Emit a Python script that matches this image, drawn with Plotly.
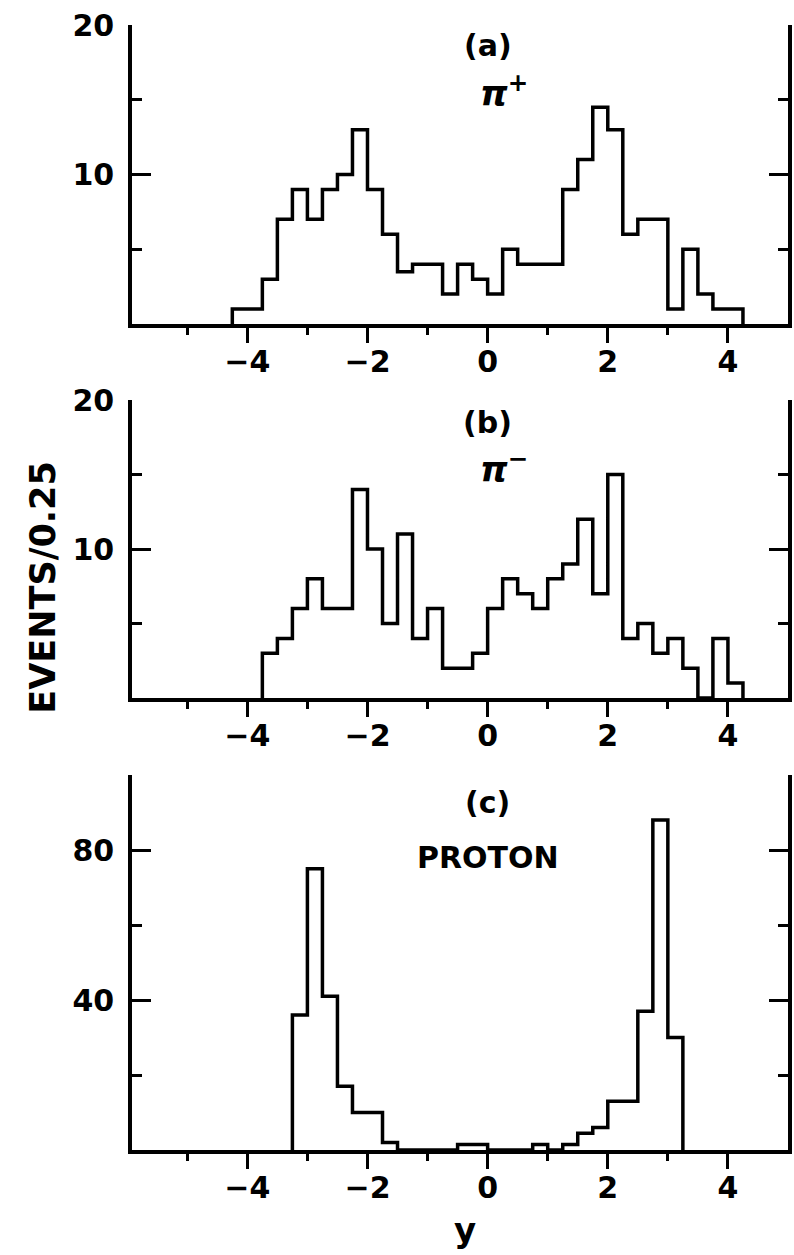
import plotly.graph_objects as go

# ---------------- data ----------------
BIN = 0.25
# panel (a) pi+
a_start = -4.25
a_counts = [1, 1, 3, 7, 9, 7, 9, 10, 13, 9, 6, 3.5, 4, 4, 2, 4, 3, 2, 5, 4, 4, 4,
            9, 11, 14.5, 13, 6, 7, 7, 1, 5, 2, 1, 1]
# panel (b) pi-
b_start = -3.75
b_counts = [3, 4, 6, 8, 6, 6, 14, 10, 5, 11, 4, 6, 2, 2, 3, 6, 8, 7, 6, 8, 9, 12,
            7, 15, 4, 5, 3, 4, 2, 0, 4, 1]
# panel (c) proton
c_start = -3.25
c_counts = [36, 75, 41, 17, 10, 10, 2, 0, 0, 0, 0, 1.5, 1.5, 0, 0, 0, 1.5, 0, 1.5,
            4.5, 6, 13, 13, 37, 88, 30]

x_tickvals = [-4, -2, 0, 2, 4]
x_ticktext = ["\u22124", "\u22122", "0", "2", "4"]
x_minor = [-5, -3, -1, 1, 3]
ab_major = [10, 20]
ab_minor = [5, 15]
c_major = [40, 80]
c_minor = [20, 60, 100]

panel_labels = ["(a)", "(b)", "(c)"]
species = ["<i>\u03c0</i><sup>+</sup>", "<i>\u03c0</i><sup>\u2212</sup>", "PROTON"]
y_title = "EVENTS/0.25"
x_title = "y"


def step_xy(start, counts):
    xs = [start, start]
    ys = [0, counts[0]]
    for i in range(1, len(counts)):
        xs.append(start + i * BIN)
        ys.append(counts[i])
    xs.append(start + len(counts) * BIN)
    ys.append(0)
    return xs, ys


FONT = "DejaVu Sans"
LW = 3.5

fig = go.Figure()
for i, (st, cn) in enumerate([(a_start, a_counts), (b_start, b_counts), (c_start, c_counts)]):
    xs, ys = step_xy(st, cn)
    fig.add_trace(go.Scatter(x=xs, y=ys, mode="lines", line=dict(color="black", width=LW, shape="hv"),
                             xaxis="x" if i == 0 else f"x{i+1}", yaxis="y" if i == 0 else f"y{i+1}",
                             showlegend=False, hoverinfo="skip"))

# domains
H_PLOT = 1125.0
def dom(top_px, bot_px):
    return [(1150 - bot_px) / H_PLOT, (1150 - top_px) / H_PLOT]

doms = [dom(25, 324), dom(400, 698), dom(775, 1150)]
xr = [-5.92, 5.0]

tickfont = dict(family=FONT, size=30, color="black", weight="bold")

for i in range(3):
    xk = "xaxis" if i == 0 else f"xaxis{i+1}"
    yk = "yaxis" if i == 0 else f"yaxis{i+1}"
    anchor_y = "y" if i == 0 else f"y{i+1}"
    anchor_x = "x" if i == 0 else f"x{i+1}"
    fig.layout[xk] = dict(domain=[0, 1], anchor=anchor_y, range=xr, showgrid=False, zeroline=False,
                          showline=True, linecolor="black", linewidth=LW, mirror=False,
                          ticks="outside", ticklen=15, tickwidth=3, tickcolor="black",
                          tickvals=x_tickvals, ticktext=x_ticktext, tickfont=tickfont,
                          ticklabelstandoff=-7, automargin=False,
                          minor=dict(tickvals=x_minor, ticks="outside", ticklen=7, tickwidth=3,
                                     tickcolor="black"))
    if i < 2:
        yr = [0, 20]; maj = ab_major; mnr = ab_minor
    else:
        yr = [0, 100]; maj = c_major; mnr = c_minor
    fig.layout[yk] = dict(domain=doms[i], anchor=anchor_x, range=yr, showgrid=False, zeroline=False,
                          showline=True, linecolor="black", linewidth=LW, mirror="ticks",
                          ticks="inside", ticklen=19, tickwidth=3, tickcolor="black",
                          tickvals=maj, ticktext=[str(v) for v in maj], tickfont=tickfont,
                          ticklabelstandoff=8, automargin=False,
                          minor=dict(tickvals=mnr, ticks="inside", ticklen=10, tickwidth=3,
                                     tickcolor="black"))

annfont = dict(family=FONT, size=30, color="black", weight="bold")
spfont = dict(family=FONT, size=35, color="black", weight="bold")
# panel labels
lab_pos = [(0.0, 18.6, "x", "y"), (0.0, 18.5, "x2", "y2"), (0.0, 92.8, "x3", "y3")]
sp_pos = [(0.27, 15.6, "x", "y"), (0.27, 15.5, "x2", "y2"), (0.0, 78.1, "x3", "y3")]
for (x, y, xr_, yr_), t in zip(lab_pos, panel_labels):
    fig.add_annotation(x=x, y=y, xref=xr_, yref=yr_, text=t, showarrow=False, font=annfont,
                       xanchor="center", yanchor="middle")
for k, ((x, y, xr_, yr_), t) in enumerate(zip(sp_pos, species)):
    fig.add_annotation(x=x, y=y, xref=xr_, yref=yr_, text=t, showarrow=False,
                       font=spfont if k < 2 else annfont,
                       xanchor="center", yanchor="middle")

fig.add_annotation(x=-0.137, y=0.5, xref="paper", yref="paper", text=y_title, textangle=-90,
                   xanchor="center", yanchor="middle",
                   showarrow=False, font=dict(family=FONT, size=35, color="black", weight="bold"))
fig.add_annotation(x=0.507, y=-0.0711, xref="paper", yref="paper", text=x_title,
                   xanchor="center", yanchor="middle",
                   showarrow=False, font=dict(family=FONT, size=34, color="black", weight="bold"))

fig.update_layout(width=794, height=1255, margin=dict(l=132, r=6, t=25, b=105, autoexpand=False),
                  paper_bgcolor="white", plot_bgcolor="white", showlegend=False)

fig.write_html("out.html", config={"displayModeBar": False},
               post_script="document.body.style.margin='0px';document.body.style.overflow='hidden';")
